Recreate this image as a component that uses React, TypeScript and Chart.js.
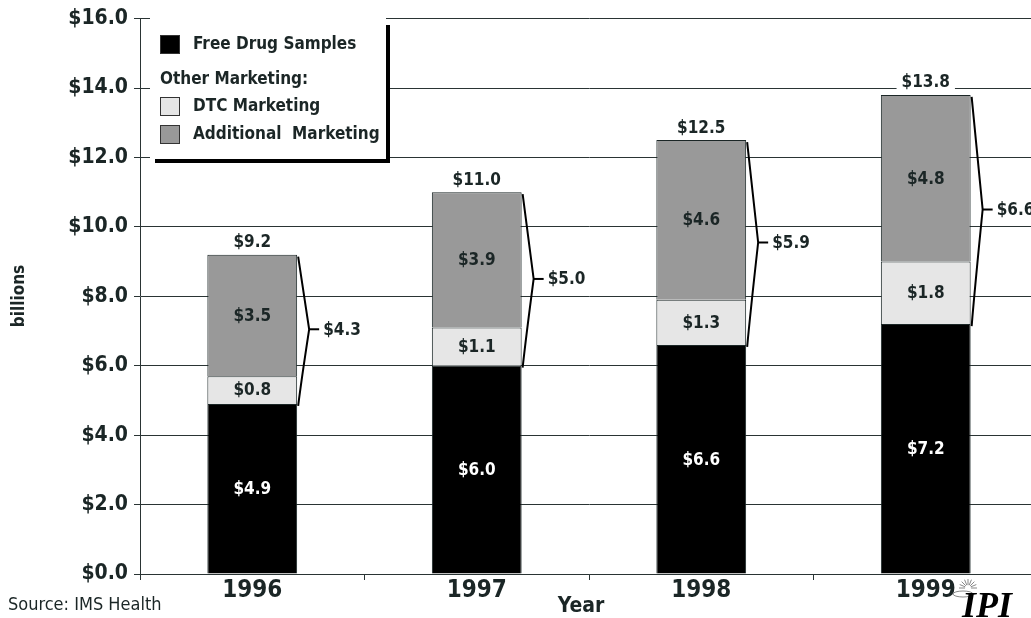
import React, { useEffect, useRef } from "react";
import { Chart, registerables } from "chart.js";

Chart.register(...registerables);

const years = ["1996", "1997", "1998", "1999"];
const freeSamples = [4.9, 6.0, 6.6, 7.2];
const dtcMarketing = [0.8, 1.1, 1.3, 1.8];
const additionalMarketing = [3.5, 3.9, 4.6, 4.8];
const totals = [9.2, 11.0, 12.5, 13.8];
const otherMarketingTotals = [4.3, 5.0, 5.9, 6.6];
const seriesLabels = ["Free Drug Samples", "DTC Marketing", "Additional  Marketing"];
const legendHeading = "Other Marketing:";
const yAxisTitle = "billions";
const xAxisTitle = "Year";
const sourceText = "Source: IMS Health";
const logoText = "IPI";

const FONT = '"DejaVu Sans Condensed", "Liberation Sans Narrow", sans-serif';
const TEXT = "#1b2626";
const GRID = "#2a3434";
const COLORS = ["#000000", "#e6e6e6", "#999999"];
const CANVAS_W = 1058;
const CANVAS_H = 618;

const fmt = (v: number) => "$" + v.toFixed(1);

const annotate = {
  id: "annotate",
  afterDatasetsDraw(chart: any) {
    const ctx = chart.ctx as CanvasRenderingContext2D;
    const yScale = chart.scales.y;
    const metas = [0, 1, 2].map((i) => chart.getDatasetMeta(i));
    ctx.save();
    ctx.font = `bold 17px ${FONT}`;
    ctx.textAlign = "center";
    ctx.textBaseline = "middle";
    metas.forEach((m: any, di: number) => {
      m.data.forEach((el: any, i: number) => {
        const v = chart.data.datasets[di].data[i] as number;
        ctx.fillStyle = di === 0 ? "#ffffff" : TEXT;
        ctx.fillText(fmt(v), el.x, (el.y + el.base) / 2 + 1);
      });
    });

    totals.forEach((t, i) => {
      const topEl = metas[2].data[i];
      const baseEl = metas[0].data[i];
      const xr = topEl.x + topEl.width / 2;
      const topY = topEl.y;
      const botY = baseEl.y;
      const mid = (topY + botY) / 2;
      const ty = yScale.getPixelForValue(t) - 13;
      ctx.font = `bold 17px ${FONT}`;
      const w = ctx.measureText(fmt(t)).width;
      ctx.fillStyle = "#ffffff";
      ctx.fillRect(topEl.x - w / 2 - 5, ty - 9, w + 10, 18);
      ctx.fillStyle = TEXT;
      ctx.textAlign = "center";
      ctx.fillText(fmt(t), topEl.x, ty + 1);
      ctx.strokeStyle = "#000";
      ctx.lineWidth = 2;
      ctx.beginPath();
      ctx.moveTo(xr + 1, topY + 2);
      ctx.quadraticCurveTo(xr + 4, topY + (mid - topY) * 0.3, xr + 12, mid);
      ctx.quadraticCurveTo(xr + 4, botY - (botY - mid) * 0.3, xr + 1, botY + 2);
      ctx.stroke();
      ctx.beginPath();
      ctx.moveTo(xr + 12, mid);
      ctx.lineTo(xr + 22, mid);
      ctx.stroke();
      ctx.textAlign = "left";
      ctx.fillStyle = TEXT;
      ctx.fillText(fmt(otherMarketingTotals[i]), xr + 26, mid + 1);
    });
    ctx.restore();
  },
  afterDraw(chart: any) {
    const ctx = chart.ctx as CanvasRenderingContext2D;
    ctx.save();
    ctx.fillStyle = "#000";
    ctx.fillRect(155, 25, 235, 138);
    ctx.fillStyle = "#fff";
    ctx.fillRect(150, 18, 236, 141);
    const squares = [
      { y: 35, c: COLORS[0], label: seriesLabels[0] },
      { y: 97, c: COLORS[1], label: seriesLabels[1] },
      { y: 125, c: COLORS[2], label: seriesLabels[2] },
    ];
    ctx.font = `bold 17px ${FONT}`;
    ctx.textBaseline = "middle";
    ctx.textAlign = "left";
    squares.forEach((s) => {
      ctx.fillStyle = s.c;
      ctx.fillRect(160, s.y, 20, 19);
      ctx.strokeStyle = "#333";
      ctx.lineWidth = 1;
      ctx.strokeRect(160.5, s.y + 0.5, 19, 18);
      ctx.fillStyle = TEXT;
      ctx.fillText(s.label, 193, s.y + 10);
    });
    ctx.fillText(legendHeading, 160, 80);

    ctx.save();
    ctx.translate(20, 296);
    ctx.rotate(-Math.PI / 2);
    ctx.textAlign = "center";
    ctx.font = `bold 17px ${FONT}`;
    ctx.fillText(yAxisTitle, 0, 0);
    ctx.restore();

    ctx.textAlign = "center";
    ctx.font = `bold 21px ${FONT}`;
    ctx.fillText(xAxisTitle, 581, 607);

    ctx.textAlign = "left";
    ctx.font = `18px ${FONT}`;
    ctx.fillText(sourceText, 8, 605);

    ctx.strokeStyle = "#888";
    ctx.lineWidth = 1;
    for (let k = 0; k < 9; k++) {
      const a = Math.PI + (k * Math.PI) / 8;
      ctx.beginPath();
      ctx.moveTo(968 + Math.cos(a) * 3, 588 + Math.sin(a) * 3);
      ctx.lineTo(968 + Math.cos(a) * 9, 588 + Math.sin(a) * 9);
      ctx.stroke();
    }
    ctx.beginPath();
    ctx.ellipse(963, 594, 10, 3, 0, 0, Math.PI * 2);
    ctx.stroke();
    ctx.fillStyle = "#000";
    ctx.font = `italic bold 36px "Liberation Serif", serif`;
    ctx.textBaseline = "alphabetic";
    ctx.fillText(logoText, 962, 617);
    ctx.restore();
  },
};

export default function App() {
  const ref = useRef<HTMLCanvasElement | null>(null);
  useEffect(() => {
    if (!ref.current) return;
    const chart = new Chart(ref.current, {
      type: "bar",
      data: {
        labels: years,
        datasets: [
          { label: seriesLabels[0], data: freeSamples, backgroundColor: COLORS[0], borderColor: "#1b2626", borderWidth: 1 },
          { label: seriesLabels[1], data: dtcMarketing, backgroundColor: COLORS[1], borderColor: "#1b2626", borderWidth: 1 },
          { label: seriesLabels[2], data: additionalMarketing, backgroundColor: COLORS[2], borderColor: "#1b2626", borderWidth: 1 },
        ],
      },
      options: {
        responsive: false,
        animation: false,
        devicePixelRatio: 1,
        layout: { padding: { left: 0, right: CANVAS_W - 1038, top: 17, bottom: 0 } },
        plugins: { legend: { display: false }, tooltip: { enabled: false }, title: { display: false } },
        datasets: { bar: { barPercentage: 0.4, categoryPercentage: 1 } },
        scales: {
          x: {
            stacked: true,
            afterFit: (s: any) => { s.height = CANVAS_H - 574; },
            grid: { display: true, drawOnChartArea: false, drawTicks: true, tickLength: 6, color: GRID, offset: true },
            border: { display: true, color: GRID, width: 1 },
            ticks: { color: TEXT, font: { family: FONT, size: 24, weight: "bold" }, padding: -4 },
          },
          y: {
            stacked: true,
            min: 0,
            max: 16,
            afterFit: (s: any) => { s.width = 140; },
            grid: { color: GRID, lineWidth: 1, tickLength: 6 },
            border: { display: true, color: GRID, width: 1 },
            ticks: {
              stepSize: 2,
              color: TEXT,
              padding: 6,
              font: { family: FONT, size: 21, weight: "bold" },
              callback: (v: any) => fmt(Number(v)),
            },
          },
        },
      },
      plugins: [annotate],
    } as any);
    return () => chart.destroy();
  }, []);
  return (
    <div style={{ position: "fixed", left: 0, top: 0, width: 1031, height: 618, overflow: "hidden", background: "#fff" }}>
      <canvas ref={ref} width={CANVAS_W} height={CANVAS_H} style={{ display: "block" }} />
    </div>
  );
}
